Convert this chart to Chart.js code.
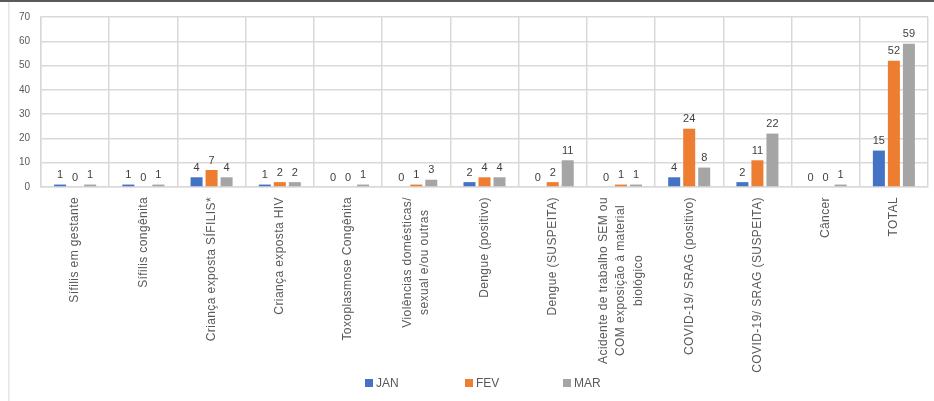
<!DOCTYPE html>
<html>
<head>
<meta charset="utf-8">
<script src="https://cdn.jsdelivr.net/npm/chart.js@4/dist/chart.umd.min.js"></script>
<style>
html,body{margin:0;padding:0;background:#fff;}
#c{display:block;}
</style>
</head>
<body>
<canvas id="c" width="934" height="401"></canvas>
<script>
const categories = [
  ["Sífilis em gestante"],
  ["Sífilis congênita"],
  ["Criança exposta SÍFILIS*"],
  ["Criança exposta HIV"],
  ["Toxoplasmose Congênita"],
  ["Violências domésticas/", "sexual e/ou outras"],
  ["Dengue (positivo)"],
  ["Dengue (SUSPEITA)"],
  ["Acidente de trabalho SEM ou", "COM exposição à material", "biológico"],
  ["COVID-19/ SRAG (positivo)"],
  ["COVID-19/ SRAG (SUSPEITA)"],
  ["Câncer"],
  ["TOTAL"]
];
const seriesNames = ["JAN", "FEV", "MAR"];
const jan = [1, 1, 4, 1, 0, 0, 2, 0, 0, 4, 2, 0, 15];
const fev = [0, 0, 7, 2, 0, 1, 4, 2, 1, 24, 11, 0, 52];
const mar = [1, 1, 4, 2, 1, 3, 4, 11, 1, 8, 22, 1, 59];
const yTicks = [0, 10, 20, 30, 40, 50, 60, 70];
const colors = ["#4472C4", "#ED7D31", "#A5A5A5"];

const FONT = "'Liberation Sans', Arial, sans-serif";
const TEXT = "#595959";

const framePlugin = {
  id: 'frame',
  beforeDraw(chart) {
    const ctx = chart.ctx;
    ctx.save();
    ctx.fillStyle = '#fff';
    ctx.fillRect(0, 0, chart.width, chart.height);
    ctx.fillStyle = '#5a5a5a';
    ctx.fillRect(0, 0, chart.width, 2);
    ctx.fillStyle = '#e6e6e6';
    ctx.fillRect(8, 2, 1.5, chart.height - 2);
    ctx.restore();
  }
};

const labelsPlugin = {
  id: 'valueLabels',
  afterDatasetsDraw(chart) {
    const ctx = chart.ctx;
    ctx.save();
    ctx.font = "11px " + FONT;
    ctx.fillStyle = "#404040";
    ctx.textAlign = 'center';
    ctx.textBaseline = 'bottom';
    chart.data.datasets.forEach((ds, i) => {
      const meta = chart.getDatasetMeta(i);
      meta.data.forEach((bar, j) => {
        ctx.fillText(String(ds.data[j]), bar.x, bar.y - 4);
      });
    });
    ctx.restore();
  }
};

const xLabelsPlugin = {
  id: 'xLabels',
  afterDraw(chart) {
    const ctx = chart.ctx;
    const xs = chart.scales.x;
    const top = chart.chartArea.bottom + 10;
    const lh = 17.5;
    ctx.save();
    ctx.font = "12px " + FONT;
    if ('letterSpacing' in ctx) ctx.letterSpacing = '0.4px';
    ctx.fillStyle = TEXT;
    ctx.textBaseline = 'middle';
    ctx.textAlign = 'center';
    chart.data.labels.forEach((lines, i) => {
      const x = xs.getPixelForValue(i);
      const maxW = Math.max(...lines.map(l => ctx.measureText(l).width));
      ctx.save();
      ctx.translate(x, top);
      ctx.rotate(-Math.PI / 2);
      lines.forEach((l, k) => {
        const off = (k - (lines.length - 1) / 2) * lh;
        ctx.fillText(l, -maxW / 2, off);
      });
      ctx.restore();
    });
    ctx.restore();
  }
};

const legendPlugin = {
  id: 'customLegend',
  afterDraw(chart) {
    const ctx = chart.ctx;
    const starts = [365, 465, 563];
    const y = 383;
    ctx.save();
    ctx.font = "12px " + FONT;
    ctx.textBaseline = 'middle';
    ctx.textAlign = 'left';
    chart.data.datasets.forEach((ds, i) => {
      ctx.fillStyle = ds.backgroundColor;
      ctx.fillRect(starts[i], y - 4, 8, 8);
      ctx.fillStyle = TEXT;
      ctx.fillText(ds.label, starts[i] + 11, y + 0.5);
    });
    ctx.restore();
  }
};

const datasets = [jan, fev, mar].map((d, i) => ({
  label: seriesNames[i],
  data: d,
  backgroundColor: colors[i],
  borderWidth: 0,
  categoryPercentage: 0.66,
  barPercentage: 0.8
}));

new Chart(document.getElementById('c'), {
  type: 'bar',
  data: { labels: categories, datasets },
  options: {
    responsive: false,
    animation: false,
    devicePixelRatio: 1,
    layout: { padding: { top: 13, right: 6, left: 0, bottom: 0 } },
    plugins: { legend: { display: false }, tooltip: { enabled: false } },
    scales: {
      x: {
        grid: { color: '#d9d9d9', lineWidth: 1.5, offset: true, drawTicks: false },
        border: { color: '#d9d9d9', width: 1.5 },
        ticks: { display: false },
        afterFit(scale) { scale.height = 214; }
      },
      y: {
        min: 0, max: 70,
        afterBuildTicks(scale) { scale.ticks = yTicks.map(v => ({ value: v })); },
        grid: { color: '#d9d9d9', lineWidth: 1.5, drawTicks: false },
        border: { color: '#d9d9d9', width: 1.5 },
        ticks: { color: TEXT, font: { size: 10, family: FONT }, padding: 11 },
        afterFit(scale) { scale.width = 41; }
      }
    }
  },
  plugins: [framePlugin, labelsPlugin, xLabelsPlugin, legendPlugin]
});
</script>
</body>
</html>
